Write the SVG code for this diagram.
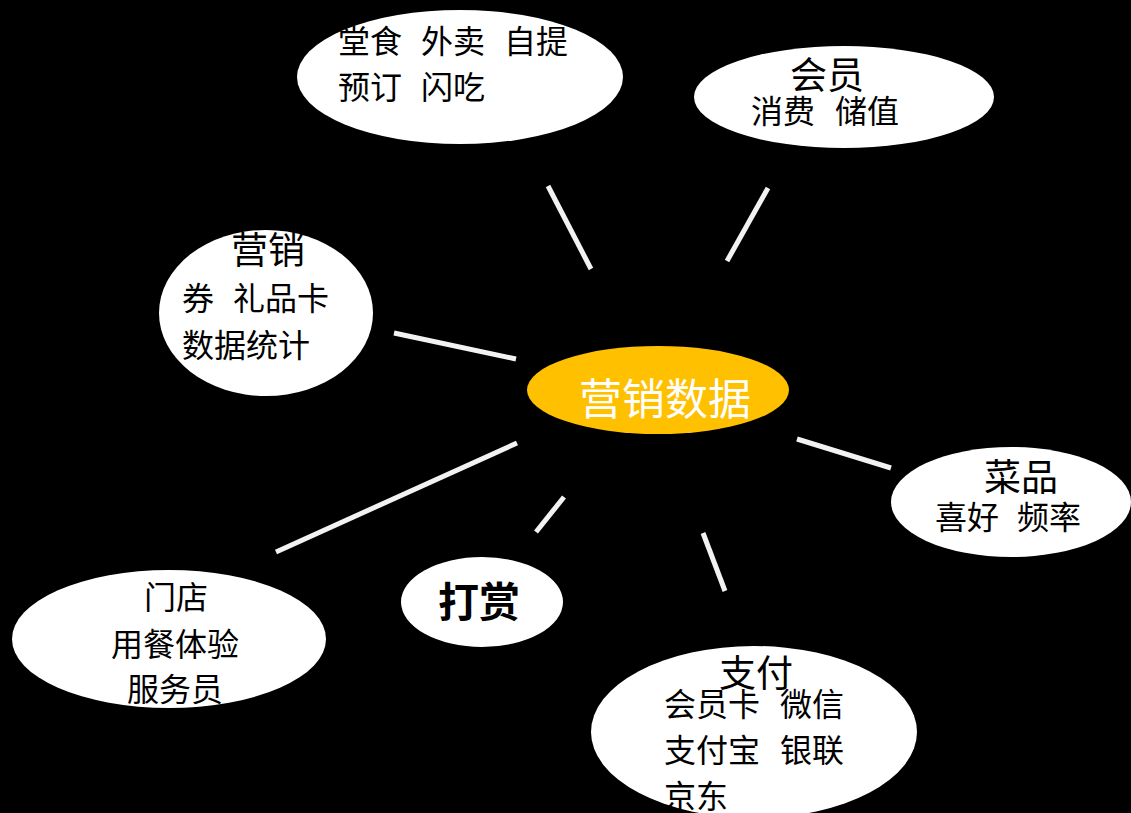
<svg xmlns="http://www.w3.org/2000/svg" width="1131" height="813" viewBox="0 0 1131 813">
<style>
.bg{fill:#000}
.node{fill:#fff}
.center{fill:#FFC000}
.conn{stroke:#F2F2F2;stroke-width:5;fill:none}
.t{font-family:"Noto Sans CJK SC","Noto Sans",sans-serif;font-size:32px;fill:#000}
.h{font-size:37px}
.ct{font-size:43px;fill:#fff}
.b{font-weight:bold;font-size:41px}
</style>
<rect class="bg" x="0" y="0" width="1131" height="813"/>
<g id="connectors">
<line class="conn" x1="548" y1="186" x2="591" y2="269"/>
<line class="conn" x1="768" y1="188" x2="727" y2="261"/>
<line class="conn" x1="394" y1="333" x2="516" y2="359"/>
<line class="conn" x1="517" y1="443" x2="276" y2="552"/>
<line class="conn" x1="564" y1="497" x2="536" y2="532"/>
<line class="conn" x1="703" y1="533" x2="725" y2="591"/>
<line class="conn" x1="797" y1="439" x2="891" y2="468"/>
</g>
<g id="node-channels">
<ellipse class="node" cx="460" cy="77" rx="163" ry="67"/>
<text class="t"><tspan x="338" y="53">堂食</tspan><tspan x="421" y="53">外卖</tspan><tspan x="504" y="53">自提</tspan><tspan x="338" y="99">预订</tspan><tspan x="421" y="99">闪吃</tspan></text>
</g>
<g id="node-member">
<ellipse class="node" cx="844" cy="97" rx="150" ry="51"/>
<text class="t h" x="790" y="89">会员</text>
<text class="t"><tspan x="751" y="123">消费</tspan><tspan x="835" y="123">储值</tspan></text>
</g>
<g id="node-marketing">
<ellipse class="node" cx="266" cy="313" rx="107" ry="83"/>
<text class="t h" x="231" y="264">营销</text>
<text class="t"><tspan x="182" y="310">券</tspan><tspan x="233" y="310">礼品卡</tspan></text>
<text class="t" x="182" y="357">数据统计</text>
</g>
<g id="node-center">
<ellipse class="center" cx="658" cy="390" rx="131" ry="44"/>
<text class="t ct" x="579" y="415">营销数据</text>
</g>
<g id="node-dishes">
<ellipse class="node" cx="1011" cy="502" rx="120" ry="55"/>
<text class="t h" x="984" y="491">菜品</text>
<text class="t"><tspan x="935" y="529">喜好</tspan><tspan x="1017" y="529">频率</tspan></text>
</g>
<g id="node-store">
<ellipse class="node" cx="169" cy="639" rx="157" ry="69"/>
<text class="t" x="144" y="609">门店</text>
<text class="t" x="111" y="656">用餐体验</text>
<text class="t" x="127" y="701">服务员</text>
</g>
<g id="node-tip">
<ellipse class="node" cx="482" cy="602" rx="81" ry="45"/>
<text class="t b" x="438" y="617">打赏</text>
</g>
<g id="node-payment">
<ellipse class="node" cx="754" cy="732" rx="163" ry="86"/>
<text class="t h" x="719" y="687">支付</text>
<text class="t"><tspan x="664" y="716">会员卡</tspan><tspan x="780" y="716">微信</tspan><tspan x="664" y="762">支付宝</tspan><tspan x="780" y="762">银联</tspan><tspan x="664" y="808">京东</tspan></text>
</g>
</svg>
